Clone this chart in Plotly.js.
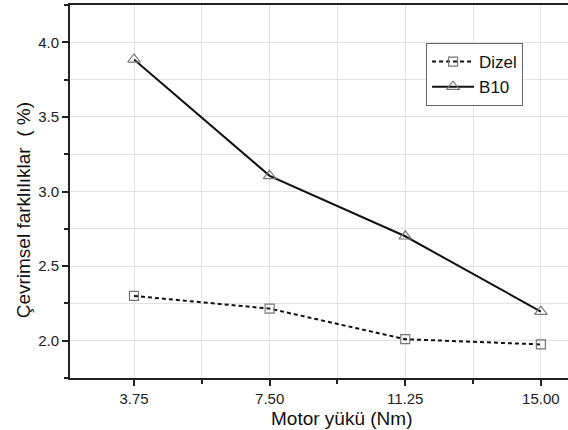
<!DOCTYPE html>
<html>
<head>
<meta charset="utf-8">
<script src="https://cdn.plot.ly/plotly-3.0.1.min.js"></script>
<style>
  html, body { margin: 0; padding: 0; background: #fff; }
  #chart { width: 568px; height: 430px; }
</style>
</head>
<body>
<div id="chart"></div>
<script>
// Motor load (Nm)
const loads = [3.75, 7.50, 11.25, 15.00];
const loadLabels = ['3.75', '7.50', '11.25', '15.00'];

// Cycle-to-cycle variation (%) per fuel
const dizel = [2.30, 2.215, 2.01, 1.975];
const b10 = [3.885, 3.105, 2.70, 2.195];

const yTicks = [2.0, 2.5, 3.0, 3.5, 4.0];
const yTickLabels = ['2.0', '2.5', '3.0', '3.5', '4.0'];

const xTitle = 'Motor yükü (Nm)';
const yTitle = 'Çevrimsel farklılıklar\u00a0\u00a0( %)';

const font = 'Liberation Sans, Arial, sans-serif';

const traces = [
  {
    x: loads, y: dizel, name: 'Dizel', type: 'scatter', mode: 'lines+markers',
    line: { color: '#111', width: 2, dash: '4px,3px' },
    marker: { symbol: 'square-open', size: 9, color: '#777', line: { width: 1.2, color: '#777' } }
  },
  {
    x: loads, y: b10, name: 'B10', type: 'scatter', mode: 'lines+markers',
    line: { color: '#111', width: 2 },
    marker: { symbol: 'triangle-up-open', size: 11, color: '#777', line: { width: 1.2, color: '#777' } }
  }
];

const layout = {
  width: 568, height: 430,
  margin: { l: 70, r: 0, t: 5, b: 52 },
  paper_bgcolor: '#fff', plot_bgcolor: '#fff',
  font: { family: font, color: '#222' },
  showlegend: true,
  legend: {
    x: 0.715, y: 0.898, xanchor: 'left', yanchor: 'top',
    bgcolor: '#fff', bordercolor: '#666', borderwidth: 1,
    font: { family: font, size: 17, color: '#111' },
    tracegroupgap: 0, itemwidth: 42
  },
  xaxis: {
    range: [1.98, 15.75],
    tickvals: loads, ticktext: loadLabels,
    ticks: 'outside', ticklen: 6, tickwidth: 2, tickcolor: '#222',
    showline: true, linecolor: '#222', linewidth: 2, mirror: true,
    showgrid: true, gridcolor: '#e3e3e3', gridwidth: 1,
    zeroline: false,
    tickfont: { family: font, size: 15, color: '#222' },
    minor: { dtick: 1.875, tick0: 3.75, ticks: 'outside', ticklen: 4, tickwidth: 2, tickcolor: '#222', showgrid: true, gridcolor: '#e3e3e3', gridwidth: 1 }
  },
  yaxis: {
    range: [1.75, 4.25],
    tickvals: yTicks, ticktext: yTickLabels,
    ticks: 'outside', ticklen: 6, tickwidth: 2, tickcolor: '#222',
    showline: true, linecolor: '#222', linewidth: 2,
    showgrid: true, gridcolor: '#e3e3e3', gridwidth: 1,
    zeroline: false,
    tickfont: { family: font, size: 15, color: '#222' },
    minor: { dtick: 0.25, tick0: 2.0, ticks: 'outside', ticklen: 4, tickwidth: 2, tickcolor: '#222', showgrid: true, gridcolor: '#e3e3e3', gridwidth: 1 }
  },
  // axis titles placed as annotations so their offsets can be set freely
  annotations: [
    {
      text: xTitle, xref: 'paper', yref: 'paper', x: 0.545, y: -0.108,
      xanchor: 'center', yanchor: 'middle', showarrow: false,
      font: { family: font, size: 19, color: '#111' }
    },
    {
      text: yTitle, xref: 'paper', yref: 'paper', x: -0.094, y: 0.45,
      xanchor: 'center', yanchor: 'middle', showarrow: false, textangle: -90,
      font: { family: font, size: 19, color: '#111' }
    }
  ]
};

Plotly.newPlot('chart', traces, layout, { staticPlot: true, displayModeBar: false });
</script>
</body>
</html>
